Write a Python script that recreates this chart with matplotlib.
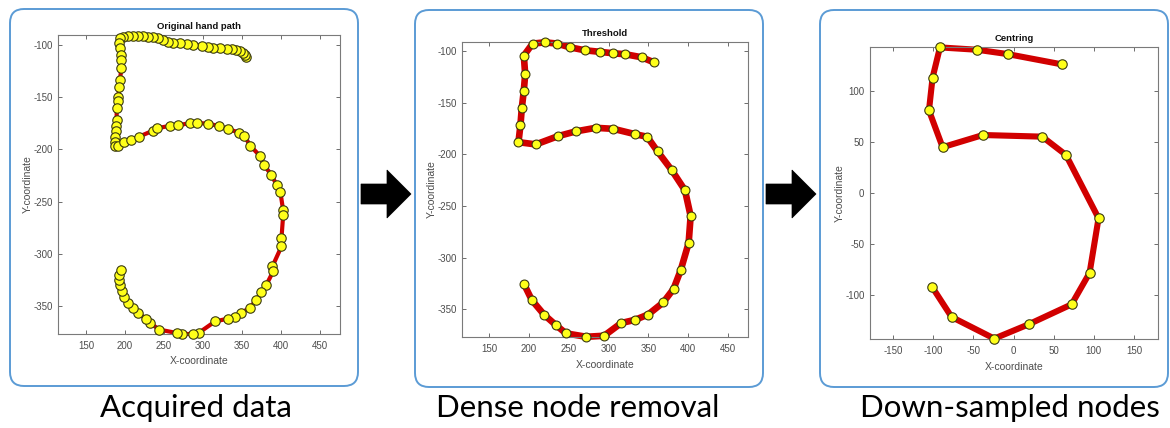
import matplotlib
matplotlib.use("Agg")
import matplotlib.pyplot as plt
from matplotlib.patches import FancyBboxPatch, Polygon

plt.rcParams["axes.unicode_minus"] = False

# ---------------- data ----------------
# Panel 1: original hand path (dense)
raw_x = [355.1, 353.9, 351.7, 347.5, 342.3, 336.8, 330.4, 321.8, 313.3, 306.9,
         298.7, 287.6, 279.1, 270.5, 262.0, 255.6, 249.2, 242.7, 236.3, 229.9,
         223.5, 217.1, 210.7, 204.3, 197.9, 193.6,
         192.7, 193.6, 194.4, 194.9, 195.3, 193.6, 192.7, 191.5, 190.6, 189.3,
         189.3, 188.5, 188.0, 187.2, 187.2, 187.2,
         191.5, 198.7, 207.3, 218.4, 236.3, 241.5, 257.7, 268.4, 283.3, 292.7,
         306.9, 320.5, 332.5, 346.6, 353.0, 361.1, 373.1, 378.6, 388.0, 394.9,
         399.6, 403.0, 403.0, 400.9, 400.9, 389.3, 390.2, 381.6, 375.2, 368.0,
         360.3, 348.7, 341.0, 332.5, 315.8, 294.5, 286.8, 272.7, 266.2, 244.0,
         232.1, 226.5, 217.1, 210.7, 204.3, 198.7, 195.7, 193.6, 192.3, 192.7,
         194.4]
raw_y = [-111.8, -109.6, -107.3, -105.4, -104.8, -104.1, -103.8, -103.2, -102.5, -101.9,
         -101.0, -100.0, -98.7, -98.4, -97.8, -96.8, -95.2, -93.6, -92.7, -92.0,
         -91.4, -91.4, -91.1, -91.4, -92.0, -93.6,
         -98.4, -103.2, -109.6, -114.3, -122.3, -133.4, -140.4, -149.4, -154.1, -160.5,
         -171.7, -178.0, -182.8, -187.6, -193.3, -197.1,
         -197.1, -193.3, -190.8, -187.6, -181.9, -179.6, -177.4, -176.8, -174.8, -174.5,
         -175.5, -177.4, -180.6, -183.8, -187.0, -196.5, -206.1, -215.3, -224.2, -234.4,
         -241.1, -258.3, -263.1, -284.7, -292.7, -311.8, -316.6, -329.3, -336.6, -344.3,
         -351.6, -356.4, -360.2, -361.8, -364.4, -375.5, -376.5, -376.5, -375.5, -372.3,
         -365.9, -361.8, -356.4, -351.6, -346.8, -341.4, -335.7, -329.3, -324.5, -319.8,
         -315.0]

# Panel 2: after dense node removal (threshold)
thr_x = [356.5, 341.4, 321.2, 305.7, 289.7, 270.0, 251.1, 235.6, 220.1, 204.6,
         193.6, 195.3, 193.6, 191.1, 189.4, 186.9,
         208.7, 236.4, 258.7, 283.9, 306.1, 333.0, 348.5, 361.5, 379.5, 395.9,
         403.0, 400.5, 390.5, 381.6, 368.6, 349.7, 333.4, 315.8, 294.4, 272.1,
         246.5, 233.5, 219.2, 203.7, 194.1]
thr_y = [-110.6, -105.8, -102.9, -101.9, -100.6, -99.0, -96.1, -92.6, -91.3, -92.6,
         -104.2, -122.3, -138.1, -154.8, -171.3, -188.1,
         -190.3, -182.3, -177.7, -174.2, -175.2, -180.3, -182.9, -197.1, -215.5, -234.8,
         -259.7, -285.8, -312.3, -330.3, -343.5, -355.2, -360.3, -363.5, -375.8, -376.8,
         -373.5, -365.2, -355.5, -341.3, -326.1]

# Panel 3: down-sampled, centred nodes
cen_x = [59.8, -7.5, -45.3, -91.8, -101.0, -105.5, -88.5, -38.2, 35.7, 65.2,
         105.9, 94.7, 72.3, 18.7, -24.1, -77.3, -101.4]
cen_y = [125.6, 135.6, 139.8, 142.1, 112.6, 80.6, 44.7, 56.6, 55.0, 37.2,
         -24.6, -78.0, -108.7, -128.2, -142.1, -121.0, -91.9]

titles = ["Original hand path", "Threshold", "Centring"]
captions = ["Acquired data", "Dense node removal", "Down-sampled nodes"]
xticks_12 = [150, 200, 250, 300, 350, 400, 450]
yticks_12 = [-100, -150, -200, -250, -300, -350]
xticks_3 = [-150, -100, -50, 0, 50, 100, 150]
yticks_3 = [-100, -50, 0, 50, 100]

# ---------------- figure ----------------
W, H = 1170, 428
fig = plt.figure(figsize=(W / 100, H / 100), dpi=100)
fig.patch.set_facecolor("white")

# overlay in pixel coordinates for boxes, arrows, captions
ov = fig.add_axes([0, 0, 1, 1], zorder=0)
ov.set_xlim(0, W)
ov.set_ylim(H, 0)
ov.axis("off")

boxes = [(10, 9, 348, 377), (415, 10, 348, 377), (820, 10, 348, 377)]
for (bx, by, bw, bh) in boxes:
    ov.add_patch(FancyBboxPatch((bx, by), bw, bh,
                                boxstyle="round,pad=0,rounding_size=14",
                                fc="white", ec="#5b9bd5", lw=1.4))

for ax0 in (361, 766):
    cy = 194
    pts = [(ax0, cy - 10), (ax0 + 26, cy - 10), (ax0 + 26, cy - 24),
           (ax0 + 50, cy), (ax0 + 26, cy + 24), (ax0 + 26, cy + 10), (ax0, cy + 10)]
    ov.add_patch(Polygon(pts, closed=True, fc="black", ec="black", lw=0.5))

cap_x = [196, 578, 1010]
for cx, txt in zip(cap_x, captions):
    ov.text(cx, 408, txt, ha="center", va="center", fontsize=22.5,
            family="Lato", color="black")

# axes rectangles in pixels: left, top, right, bottom
rects = [(58, 35, 340, 334), (462, 42, 748, 337), (870, 47, 1158, 339)]
datasets = [(raw_x, raw_y), (thr_x, thr_y), (cen_x, cen_y)]
xlims = [(114, 476), (116, 475), (-179, 180)]
ylims = [(-376.5, -90.5), (-377, -91), (-142.5, 142.5)]
lws = [3.0, 4.8, 4.4]
mss = [6.8, 6.4, 6.8]

for i in range(3):
    l, t, r, b = rects[i]
    ax = fig.add_axes([l / W, 1 - b / H, (r - l) / W, (b - t) / H], zorder=2)
    xs, ys = datasets[i]
    ax.plot(xs, ys, "-", color="#d10000", lw=lws[i], solid_capstyle="round",
            zorder=2, clip_on=False)
    ax.plot(xs, ys, "o", ms=mss[i], mfc="#ffff1a", mec="#3a3a10", mew=0.8,
            zorder=3, clip_on=False)
    ax.set_xlim(*xlims[i])
    ax.set_ylim(*ylims[i])
    if i < 2:
        ax.set_xticks(xticks_12)
        ax.set_yticks(yticks_12)
    else:
        ax.set_xticks(xticks_3)
        ax.set_yticks(yticks_3)
    ax.tick_params(direction="in", top=True, right=True, length=3, width=0.6,
                   colors="#555555", labelsize=7)
    ax.tick_params(axis="x", pad=5)
    ax.tick_params(axis="y", pad=4)
    for lab in ax.get_xticklabels() + ax.get_yticklabels():
        lab.set_family("Liberation Sans")
        lab.set_color("#4d4d4d")
    for sp in ax.spines.values():
        sp.set_color("#7a7a7a")
        sp.set_linewidth(0.8)
    ax.set_title(titles[i], fontsize=6.8, fontweight="bold", family="Liberation Sans",
                 pad=4, color="#111111")
    ax.set_xlabel("X-coordinate", fontsize=7.5, family="Liberation Sans",
                  color="#4d4d4d", labelpad=4)
    ax.set_ylabel("Y-coordinate", fontsize=7.5, family="Liberation Sans",
                  color="#4d4d4d", labelpad=0)

fig.savefig("out.png", dpi=100, facecolor="white")
